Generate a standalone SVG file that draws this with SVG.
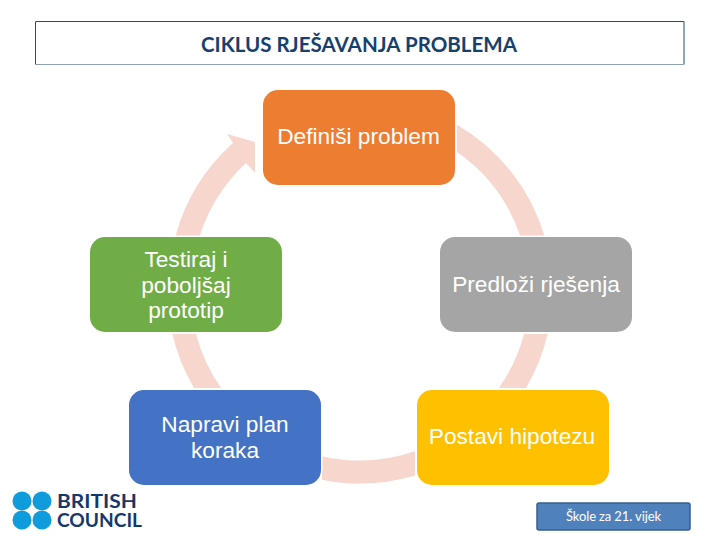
<svg xmlns="http://www.w3.org/2000/svg" width="720" height="540" viewBox="0 0 720 540">
<style>
.seg{fill:#f6d6cd}
.n{stroke:#fff;stroke-width:3;paint-order:stroke}
.t{font-family:"Liberation Sans",Arial,sans-serif;font-size:22.7px;text-anchor:middle;fill:#fff}
.l{font-family:Lato,"Liberation Sans",sans-serif}
</style>
<rect width="720" height="540" fill="#fff"/>
<g id="title">
<path d="M35.5 64.5V21.5H684V64.5" fill="none" stroke="#1f4e79" stroke-width="1"/>
<path d="M35.5 64.5H684" fill="none" stroke="#8fa2b3" stroke-width="1"/>
<text class="l" x="359" y="52" text-anchor="middle" font-size="20" font-weight="700" fill="#17406d" textLength="316" lengthAdjust="spacingAndGlyphs">CIKLUS RJEŠAVANJA PROBLEMA</text>
</g>
<g id="connectors">
<path class="seg" d="M457 124.7A192.5 192.5 0 0 1 544.5 236L520.3 236A169.5 169.5 0 0 0 457 152Z"/>
<path class="seg" d="M547.6 334A192.5 192.5 0 0 1 526 388L499 388A169.5 169.5 0 0 0 524 334Z"/>
<path class="seg" d="M415 475.5A192.5 192.5 0 0 1 322 479.7L322 456.2A169.5 169.5 0 0 0 415 451.3Z"/>
<path class="seg" d="M172.4 334A192.5 192.5 0 0 0 194 388L221 388A169.5 169.5 0 0 1 196 334Z"/>
<path class="seg" d="M175.5 236A192.5 192.5 0 0 1 233 143L227 134L255 142L255 172.7L246 163A169.5 169.5 0 0 0 199.7 236Z"/>
</g>
<g id="node-definisi">
<rect class="n" x="263" y="90" width="192" height="95" rx="15" fill="#ed7d31"/>
<text class="t" x="358.5" y="144">Definiši problem</text>
</g>
<g id="node-predlozi">
<rect class="n" x="440" y="237" width="192" height="95" rx="15" fill="#a5a5a5"/>
<text class="t" x="536" y="292">Predloži rješenja</text>
</g>
<g id="node-postavi">
<rect class="n" x="417" y="390" width="192" height="95" rx="15" fill="#ffc000"/>
<text class="t" x="512" y="444">Postavi hipotezu</text>
</g>
<g id="node-napravi">
<rect class="n" x="129" y="390" width="192" height="95" rx="15" fill="#4472c4"/>
<text class="t" x="225" y="432">Napravi plan</text>
<text class="t" x="225" y="457.5">koraka</text>
</g>
<g id="node-testiraj">
<rect class="n" x="90" y="237" width="192" height="95" rx="15" fill="#70ad47"/>
<text class="t" x="186" y="267">Testiraj i</text>
<text class="t" x="186" y="292.5">poboljšaj</text>
<text class="t" x="186" y="318">prototip</text>
</g>
<g id="logo">
<circle cx="22" cy="501" r="9.5" fill="#0f9bdc"/>
<circle cx="42" cy="501" r="9.5" fill="#0f9bdc"/>
<circle cx="22" cy="520" r="9.5" fill="#0f9bdc"/>
<circle cx="42" cy="520" r="9.5" fill="#0f9bdc"/>
<text class="l" x="57" y="508" font-size="19" font-weight="700" fill="#17376b" textLength="80" lengthAdjust="spacingAndGlyphs">BRITISH</text>
<text class="l" x="57" y="527" font-size="19" font-weight="700" fill="#17376b" textLength="85" lengthAdjust="spacingAndGlyphs">COUNCIL</text>
</g>
<g id="badge">
<rect x="537" y="503" width="153" height="27" rx="2" fill="#4f81bd" stroke="#385d8a" stroke-width="1.5"/>
<text class="l" x="613.5" y="521" text-anchor="middle" font-size="13" fill="#fff" textLength="95" lengthAdjust="spacing">Škole za 21. vijek</text>
</g>
</svg>
